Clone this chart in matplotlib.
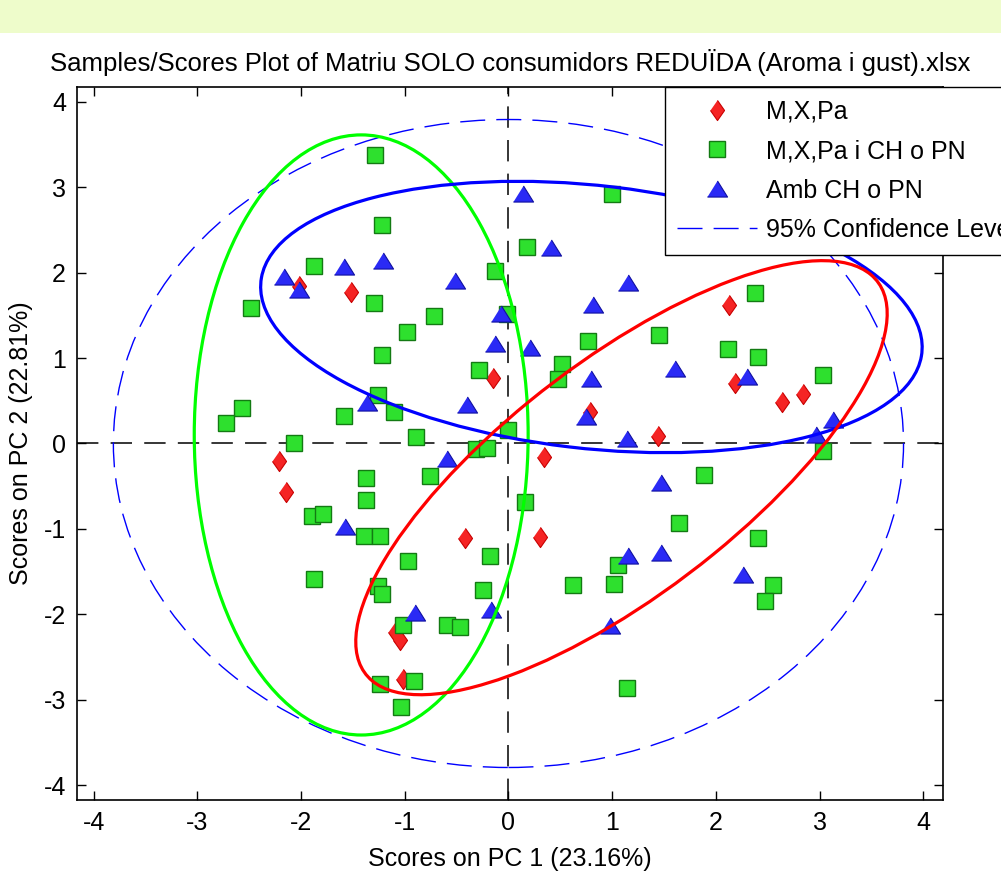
import matplotlib
matplotlib.use('Agg')
import matplotlib.pyplot as plt
from matplotlib.lines import Line2D
from matplotlib.patches import Ellipse, Rectangle

plt.rcParams['font.family'] = ['Liberation Sans', 'DejaVu Sans']
plt.rcParams['axes.unicode_minus'] = False

# scores (PC1, PC2) per grup
red_pc1 = [-2.02, -1.52, -0.15, -2.21, -2.15, 2.13, 2.18, 2.64, 2.84, 0.79,
           1.44, 0.34, 0.30, -0.42, -1.09, -1.05, -1.02]
red_pc2 = [1.84, 1.77, 0.77, -0.21, -0.57, 1.62, 0.71, 0.48, 0.58, 0.37,
           0.09, -0.16, -1.09, -1.11, -2.20, -2.30, -2.76]

green_pc1 = [-1.29, 1.00, -1.22, 0.18, -1.88, -0.13, -2.48, -1.30, -0.72, -0.98,
             -0.01, 2.38, 1.45, 0.77, 2.12, 2.41, -1.22, 0.52, 0.48, -0.28,
             3.03, -2.57, -2.72, -1.26, -1.59, -1.10, -2.07, -0.89, 0.00, 3.03,
             -0.31, -0.21, -1.37, -1.37, -0.76, -1.89, -1.79, -1.39, -1.24, -0.97,
             -1.88, -1.26, -1.22, -0.18, -0.25, -1.02, -0.59, -0.47, -1.24, -0.91,
             -1.04, 0.16, 1.89, 1.64, 2.41, 1.06, 0.62, 1.02, 2.55, 2.47, 1.14]
green_pc2 = [3.37, 2.92, 2.56, 2.30, 2.08, 2.02, 1.59, 1.64, 1.49, 1.30,
             1.51, 1.76, 1.27, 1.20, 1.10, 1.01, 1.03, 0.93, 0.76, 0.86,
             0.80, 0.42, 0.24, 0.57, 0.32, 0.37, 0.00, 0.08, 0.16, -0.09,
             -0.07, -0.05, -0.40, -0.66, -0.38, -0.85, -0.83, -1.08, -1.08, -1.37,
             -1.59, -1.67, -1.76, -1.32, -1.71, -2.12, -2.12, -2.15, -2.81, -2.78,
             -3.08, -0.68, -0.37, -0.93, -1.10, -1.42, -1.66, -1.64, -1.66, -1.84, -2.86]

blue_pc1 = [0.14, 0.41, -2.16, -2.02, -1.59, -1.21, -0.52, 1.15, 0.82, -0.07,
            -0.13, 0.21, 1.61, 0.80, 2.30, -1.36, -0.40, 0.75, 1.14, 3.13,
            2.97, -0.59, 1.47, -1.58, 1.15, 1.47, 2.26, 0.98, -0.90, -0.17]
blue_pc2 = [2.92, 2.29, 1.95, 1.80, 2.07, 2.14, 1.90, 1.88, 1.62, 1.51,
            1.16, 1.12, 0.87, 0.75, 0.78, 0.47, 0.45, 0.31, 0.05, 0.27,
            0.10, -0.18, -0.46, -0.98, -1.32, -1.28, -1.54, -2.14, -1.98, -1.95]

labels = ['M,X,Pa', 'M,X,Pa i CH o PN', 'Amb CH o PN', '95% Confidence Level']

# el·lipses de grup: centre, amplada, alçada, angle
ell_x = [-1.42, 0.80, 1.09]
ell_y = [0.10, 1.48, -0.40]
ell_w = [3.22, 6.43, 6.76]
ell_h = [7.02, 3.07, 2.52]
ell_ang = [0.0, -8.2, 44.65]
ell_col = ['#00ff00', '#0000ff', '#ff0000']

# límit de confiança 95%
conf_w, conf_h = 7.62, 7.58

ticks = [-4, -3, -2, -1, 0, 1, 2, 3, 4]

diamond = [(0, 1), (0.7, 0), (0, -1), (-0.7, 0)]
triangle = [(-1, -0.75), (1, -0.75), (0, 0.85)]

red_style = dict(marker=diamond, markersize=14.5, markerfacecolor='#f52424',
                 markeredgecolor='#c80000', markeredgewidth=0.8, linestyle='none')
green_style = dict(marker='s', markersize=11, markerfacecolor='#2ee02e',
                   markeredgecolor='#137a13', markeredgewidth=1.0, linestyle='none')
blue_style = dict(marker=triangle, markersize=14.5, markerfacecolor='#2a2af5',
                  markeredgecolor='#1010a0', markeredgewidth=0.8, linestyle='none')
conf_style = dict(color='#0000ff', linewidth=1.0, linestyle=(0, (18, 8)))

fig = plt.figure(figsize=(10.01, 8.72), dpi=100)
fig.add_artist(Rectangle((0, 1 - 33 / 872), 1, 33 / 872, transform=fig.transFigure,
                         facecolor='#eefccb', edgecolor='none', zorder=0))

ax = fig.add_axes([0.077, 0.0826, 0.865, 0.8176])

ax.axhline(0, color='black', linewidth=1.1, linestyle=(0, (14, 8)), zorder=1)
ax.axvline(0, color='black', linewidth=1.1, linestyle=(0, (14, 8)), zorder=1)

ax.add_patch(Ellipse((0, 0), conf_w, conf_h, fill=False, zorder=1.5, **conf_style))

ax.plot(red_pc1, red_pc2, zorder=2, **red_style)
ax.plot(green_pc1, green_pc2, zorder=2.1, **green_style)
ax.plot(blue_pc1, blue_pc2, zorder=2.2, **blue_style)

for cx, cy, w, h, a, c in zip(ell_x, ell_y, ell_w, ell_h, ell_ang, ell_col):
    ax.add_patch(Ellipse((cx, cy), w, h, angle=a, fill=False, edgecolor=c,
                         linewidth=2.3, zorder=3))

ax.set_xlim(-4.16, 4.19)
ax.set_ylim(-4.17, 4.17)
ax.set_xticks(ticks)
ax.set_yticks(ticks)
ax.tick_params(direction='in', length=6.5, width=1, top=True, right=True,
               labelsize=18, pad=8)
for s in ax.spines.values():
    s.set_linewidth(1.2)

ax.set_title('Samples/Scores Plot of Matriu SOLO consumidors REDUÏDA (Aroma i gust).xlsx',
             fontsize=18.5, pad=11.5)
ax.set_xlabel('Scores on PC 1 (23.16%)', fontsize=18)
ax.set_ylabel('Scores on PC 2 (22.81%)', fontsize=18)
ax.xaxis.set_label_coords(0.5, -0.066)
ax.yaxis.set_label_coords(-0.051, 0.5)

# la llegenda surt per la dreta de la figura, com a l'original
handles = [Line2D([], [], **red_style), Line2D([], [], **green_style),
               Line2D([], [], **blue_style), Line2D([], [], **conf_style)]
leg = ax.legend(handles, labels, loc='upper left', bbox_to_anchor=(0.679, 1.0),
                fontsize=18, fancybox=False, framealpha=1, edgecolor='black',
                borderpad=0.5, labelspacing=0.62, handlelength=3.2,
                handletextpad=0.35, borderaxespad=0, numpoints=1)
leg.get_frame().set_linewidth(1.0)
leg.set_zorder(5)

fig.savefig('out.png', dpi=100)
